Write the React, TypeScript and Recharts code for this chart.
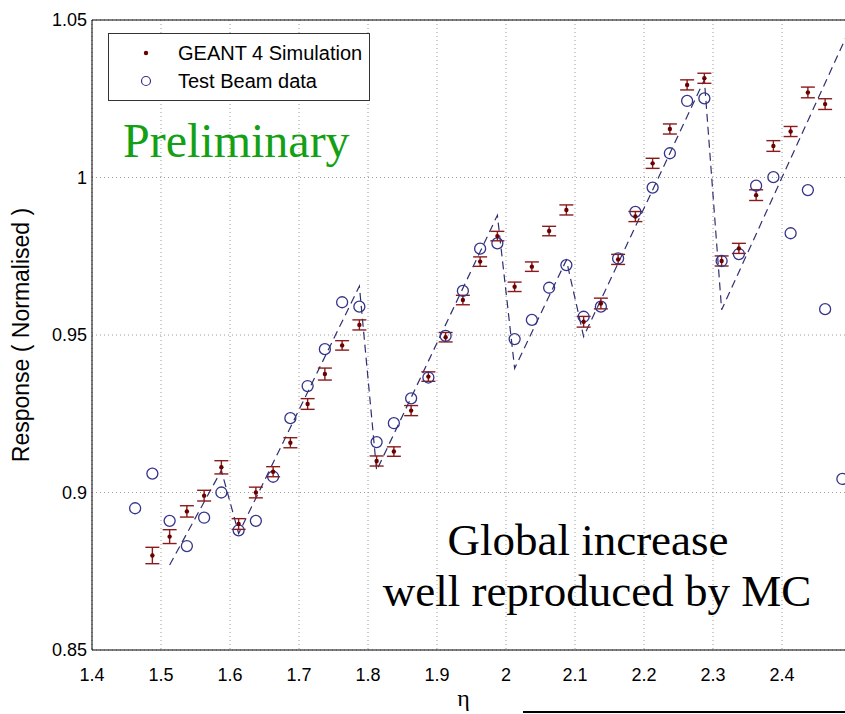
import React from 'react';
import {
  ComposedChart,
  Scatter,
  Line,
  XAxis,
  YAxis,
  CartesianGrid,
  ErrorBar,
  ReferenceLine,
  Legend,
  Label,
} from 'recharts';

// ---- data ----
const geantEta = [
  1.4875, 1.5125, 1.5375, 1.5625, 1.5875, 1.6125, 1.6375, 1.6625, 1.6875, 1.7125,
  1.7375, 1.7625, 1.7875, 1.8125, 1.8375, 1.8625, 1.8875, 1.9125, 1.9375, 1.9625,
  1.9875, 2.0125, 2.0375, 2.0625, 2.0875, 2.1125, 2.1375, 2.1625, 2.1875, 2.2125,
  2.2375, 2.2625, 2.2875, 2.3125, 2.3375, 2.3625, 2.3875, 2.4125, 2.4375, 2.4625,
];
const geantResponse = [
  0.880, 0.886, 0.894, 0.899, 0.908, 0.890, 0.900, 0.9066, 0.9158, 0.9281,
  0.9376, 0.9467, 0.9532, 0.910, 0.913, 0.926, 0.9368, 0.9493, 0.9611, 0.9733,
  0.9814, 0.9653, 0.9717, 0.983, 0.9897, 0.9542, 0.960, 0.974, 0.9876, 1.0045,
  1.0154, 1.0294, 1.0315, 0.9735, 0.9775, 0.9944, 1.010, 1.0146, 1.027, 1.0233,
];
const geantError = [
  0.0026, 0.0022, 0.0018, 0.0017, 0.0021, 0.0017, 0.0017, 0.0016, 0.0016, 0.0017,
  0.0019, 0.0015, 0.0016, 0.0016, 0.0015, 0.0016, 0.0015, 0.0015, 0.0015, 0.0015,
  0.0015, 0.0015, 0.0015, 0.0015, 0.0016, 0.0017, 0.0017, 0.0016, 0.0016, 0.0016,
  0.0016, 0.0016, 0.0016, 0.0016, 0.0016, 0.0017, 0.0017, 0.0016, 0.0017, 0.0017,
];
const beamEta = [
  1.4625, 1.4875, 1.5125, 1.5375, 1.5625, 1.5875, 1.6125, 1.6375, 1.6625, 1.6875,
  1.7125, 1.7375, 1.7625, 1.7875, 1.8125, 1.8375, 1.8625, 1.8875, 1.9125, 1.9375,
  1.9625, 1.9875, 2.0125, 2.0375, 2.0625, 2.0875, 2.1125, 2.1375, 2.1625, 2.1875,
  2.2125, 2.2375, 2.2625, 2.2875, 2.3125, 2.3375, 2.3625, 2.3875, 2.4125, 2.4375,
  2.4625, 2.4875,
];
const beamResponse = [
  0.895, 0.906, 0.891, 0.883, 0.892, 0.900, 0.888, 0.891, 0.905, 0.9236,
  0.9338, 0.9455, 0.9604, 0.959, 0.916, 0.922, 0.9299, 0.9365, 0.9497, 0.964,
  0.9774, 0.9791, 0.9487, 0.9548, 0.965, 0.9722, 0.9558, 0.959, 0.9743, 0.9891,
  0.9968, 1.0077, 1.0243, 1.0251, 0.9735, 0.9757, 0.9974, 1.0001, 0.9823, 0.996,
  0.9582, 0.9043,
];
const fitEta = [1.5125, 1.5875, 1.6125, 1.7875, 1.8125, 1.9875, 2.0125, 2.0875, 2.1125, 2.2875, 2.3125, 2.5];
const fitResponse = [0.877, 0.907, 0.887, 0.9655, 0.907, 0.988, 0.9394, 0.9738, 0.9495, 1.031, 0.958, 1.048];
const xTicks = [1.4, 1.5, 1.6, 1.7, 1.8, 1.9, 2, 2.1, 2.2, 2.3, 2.4];
const yTicks = [0.85, 0.9, 0.95, 1, 1.05];
const seriesNames = ['GEANT 4 Simulation', 'Test Beam data'];

const geantData = geantEta.map((x, i) => ({ x, y: geantResponse[i], err: geantError[i] }));
const beamData = beamEta.map((x, i) => ({ x, y: beamResponse[i] }));
const fitData = fitEta.map((x, i) => ({ x, y: fitResponse[i] }));

const SANS = '"Liberation Sans", Arial, Helvetica, sans-serif';
const SERIF = '"Liberation Serif", "Times New Roman", serif';
const RED = '#8b1a1a';
const DOT = '#6a0000';
const BLUE = '#34348a';
const FIT = '#2f2f70';

const GeantDot = (props: any) => {
  const { cx, cy } = props;
  if (cx == null || cy == null) return null;
  return <circle cx={cx} cy={cy} r={2.2} fill={DOT} />;
};

const BeamCircle = (props: any) => {
  const { cx, cy } = props;
  if (cx == null || cy == null) return null;
  return <circle cx={cx} cy={cy} r={5.5} fill="none" stroke={BLUE} strokeWidth={1.3} />;
};

const LegendBox = () => (
  <div
    style={{
      width: 262,
      height: 68,
      border: '1px solid #333',
      background: '#fff',
      boxSizing: 'border-box',
      position: 'relative',
    }}
  >
    <svg width={262} height={68} style={{ position: 'absolute', left: 0, top: 0 }}>
      <circle cx={37} cy={19} r={2.2} fill={DOT} />
      <circle cx={37} cy={47} r={4.5} fill="none" stroke={BLUE} strokeWidth={1.2} />
      <text x={69} y={19} dy="0.36em" fontFamily={SANS} fontSize={20} fill="#000">
        {seriesNames[0]}
      </text>
      <text x={69} y={47} dy="0.36em" fontFamily={SANS} fontSize={20} fill="#000">
        {seriesNames[1]}
      </text>
    </svg>
  </div>
);

export default function App() {
  return (
    <div
      style={{
        position: 'absolute',
        left: 0,
        top: 0,
        width: 845,
        height: 714,
        overflow: 'hidden',
        background: '#fff',
      }}
    >
      <ComposedChart
        width={870}
        height={714}
        margin={{ top: 20, right: 19, bottom: 0, left: 0 }}
      >
        <CartesianGrid stroke="#9a9a9a" strokeDasharray="1 3" />
        <XAxis
          type="number"
          dataKey="x"
          domain={[1.4, 2.5]}
          ticks={xTicks}
          allowDataOverflow
          height={64}
          stroke="#000"
          tickLine={false}
          tickSize={8}
          tickMargin={10}
          tick={{ fill: '#000', fontSize: 18, fontFamily: SANS }}
          tickFormatter={(v: number) => String(v)}
        >
          <Label
            value="η"
            position="insideBottom"
            offset={8}
            dx={-8}
            style={{ fontFamily: SERIF, fontSize: 24, fill: '#000' }}
          />
        </XAxis>
        <YAxis
          type="number"
          dataKey="y"
          domain={[0.85, 1.05]}
          ticks={yTicks}
          allowDataOverflow
          width={92}
          stroke="#000"
          tickLine={false}
          tickSize={0}
          tickMargin={5}
          tick={{ fill: '#000', fontSize: 18, fontFamily: SANS }}
          tickFormatter={(v: number) => String(v)}
        >
          <Label
            value="Response ( Normalised )"
            angle={-90}
            position="center"
            dx={-25}
            style={{ fontFamily: SANS, fontSize: 23, fill: '#000', textAnchor: 'middle' }}
          />
        </YAxis>
        <ReferenceLine y={1.05} stroke="#000" strokeWidth={1} />
        <Line
          data={fitData}
          dataKey="y"
          type="linear"
          stroke={FIT}
          strokeWidth={1.2}
          strokeDasharray="8 5"
          dot={false}
          activeDot={false}
          legendType="none"
          isAnimationActive={false}
        />
        <Scatter
          name={seriesNames[1]}
          data={beamData}
          dataKey="y"
          shape={BeamCircle}
          isAnimationActive={false}
        />
        <Scatter
          name={seriesNames[0]}
          data={geantData}
          dataKey="y"
          shape={GeantDot}
          isAnimationActive={false}
        >
          <ErrorBar dataKey="err" direction="y" width={7} stroke={RED} strokeWidth={1.4} />
        </Scatter>
        <Legend
          layout="horizontal"
          verticalAlign="middle"
          align="center"
          content={() => <LegendBox />}
          wrapperStyle={{ position: 'absolute', left: 108, top: 33, width: 262, height: 68 }}
        />
      </ComposedChart>
      <svg
        width={845}
        height={714}
        style={{ position: 'absolute', left: 0, top: 0, pointerEvents: 'none' }}
      >
        <text x={123} y={157} fontFamily={SERIF} fontSize={48} fill="#14a014">
          Preliminary
        </text>
        <text x={588} y={555} textAnchor="middle" fontFamily={SERIF} fontSize={45} fill="#000">
          Global increase
        </text>
        <text x={597} y={606} textAnchor="middle" fontFamily={SERIF} fontSize={45} fill="#000">
          well reproduced by MC
        </text>
        <line x1={523} y1={712} x2={845} y2={712} stroke="#000" strokeWidth={2} />
      </svg>
    </div>
  );
}
